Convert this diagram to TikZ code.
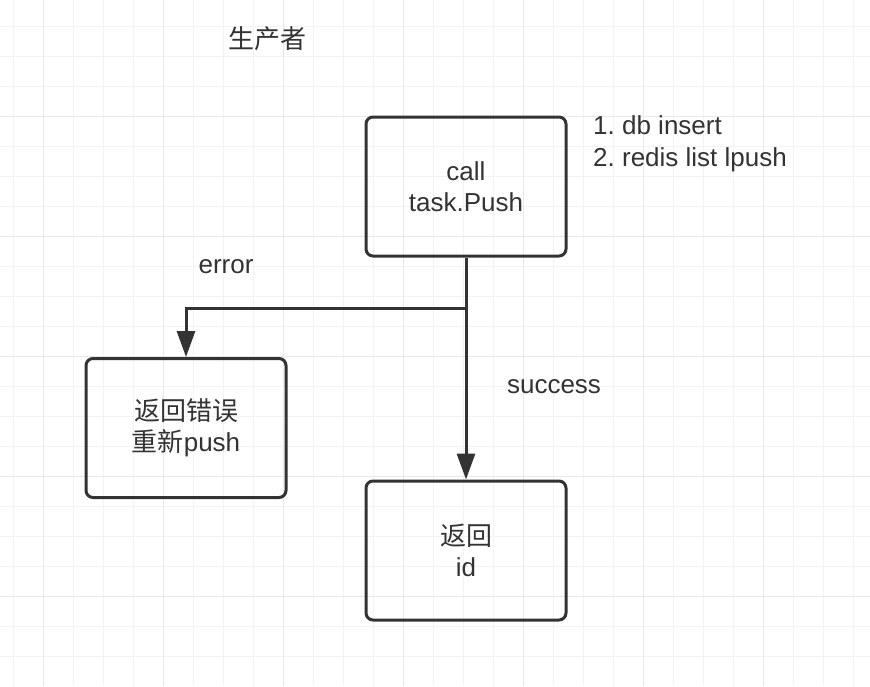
\documentclass[tikz,border=0pt]{standalone}
\usepackage{fontspec}
\setmainfont{Liberation Sans}
\newfontfamily\cjk{Noto Sans CJK SC}
\usetikzlibrary{arrows.meta}
\definecolor{ink}{HTML}{333333}
\definecolor{gridminor}{HTML}{F3F3F3}
\definecolor{gridmajor}{HTML}{E8E8E8}
\begin{document}
\begin{tikzpicture}[x=1pt,y=-1pt,
  box/.style={draw=ink, line width=3pt, rounded corners=7pt, minimum width=200pt, minimum height=139pt, inner sep=0pt, align=center, text=ink, font=\fontsize{26}{31.5}\selectfont},
  lbl/.style={text=ink, inner sep=0pt, font=\fontsize{26}{31.5}\selectfont\frenchspacing},
  conn/.style={draw=ink, line width=3pt, -{Triangle[length=26pt,width=18pt]}}]
\useasboundingbox (0,0) rectangle (870,686);
\fill[white] (0,0) rectangle (870,686);
% grid
\foreach \i in {0,...,28} {\draw[gridminor, line width=1.3pt] ({13.33+30*\i},0) -- ({13.33+30*\i},686);}
\foreach \j in {0,...,21} {\draw[gridminor, line width=1.3pt] (0,{26.67+30*\j}) -- (870,{26.67+30*\j});}
\foreach \i in {0,...,6} {\draw[gridmajor, line width=1.3pt] ({43.33+120*\i},0) -- ({43.33+120*\i},686);}
\foreach \j in {0,...,4} {\draw[gridmajor, line width=1.3pt] (0,{116.67+120*\j}) -- (870,{116.67+120*\j});}
% labels
\node[lbl] (title) at (267,39) {\cjk 生产者};
\node[lbl] (err) at (226,267) {error};
\node[lbl] (succ) at (554,387) {success};
\node[lbl, anchor=west, align=left] (steps) at (593,144) {1. db insert\\2. redis list lpush};
% boxes
\node[box] (push) at (466,186.5) {call\\task.Push};
\node[box] (retry) at (186,428) {{\cjk 返回错误}\\{\cjk 重新}push};
\node[box] (ret) at (466,550.5) {{\cjk 返回}\\id};
% connectors
\coordinate (split) at (466,308);
\draw[conn] (push.south) -- (ret.north);
\draw[conn] (split) -| (retry.north);
\end{tikzpicture}
\end{document}
